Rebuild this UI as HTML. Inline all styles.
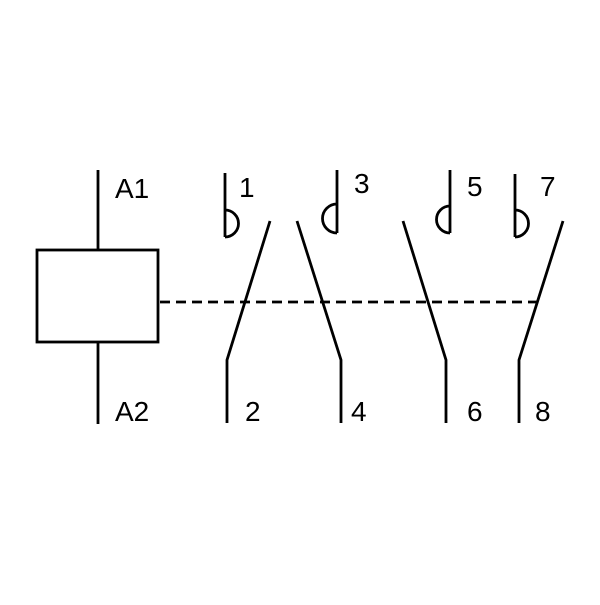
<!DOCTYPE html>
<html><head><style>html,body{margin:0;padding:0;background:#fff}</style></head>
<body>
<svg width="600" height="600" viewBox="0 0 600 600" xmlns="http://www.w3.org/2000/svg">
<g stroke="#000" stroke-width="2.8" fill="none">
<line x1="98" y1="170" x2="98" y2="250"/>
<rect x="37" y="250" width="121" height="92"/>
<line x1="98" y1="342" x2="98" y2="424"/>
<line x1="160" y1="302" x2="540" y2="302" stroke-dasharray="10,6"/>
<line x1="225" y1="173" x2="225" y2="237"/>
<path d="M225 210 A13.5 13.5 0 0 1 225 237"/>
<polyline points="270,221 227,360 227,423"/>
<line x1="337" y1="170" x2="337" y2="233"/>
<path d="M337 204 A14.5 14.5 0 0 0 337 233"/>
<polyline points="297,221 341,360 341,423"/>
<line x1="450" y1="170" x2="450" y2="233"/>
<path d="M450 206 A13.5 13.5 0 0 0 450 233"/>
<polyline points="403,221 446,360 446,423"/>
<line x1="515" y1="174" x2="515" y2="237"/>
<path d="M515 210 A13.5 13.5 0 0 1 515 237"/>
<polyline points="563,221 519,360 519,423"/>
</g>
<g font-family="Liberation Sans, sans-serif" font-size="28" fill="#000">
<text x="115" y="198">A1</text>
<text x="115" y="421">A2</text>
<text x="239" y="197">1</text>
<text x="354" y="193">3</text>
<text x="467" y="196">5</text>
<text x="540" y="196">7</text>
<text x="245" y="421">2</text>
<text x="351" y="421">4</text>
<text x="467" y="421">6</text>
<text x="535" y="421">8</text>
</g>
</svg>
</body></html>
